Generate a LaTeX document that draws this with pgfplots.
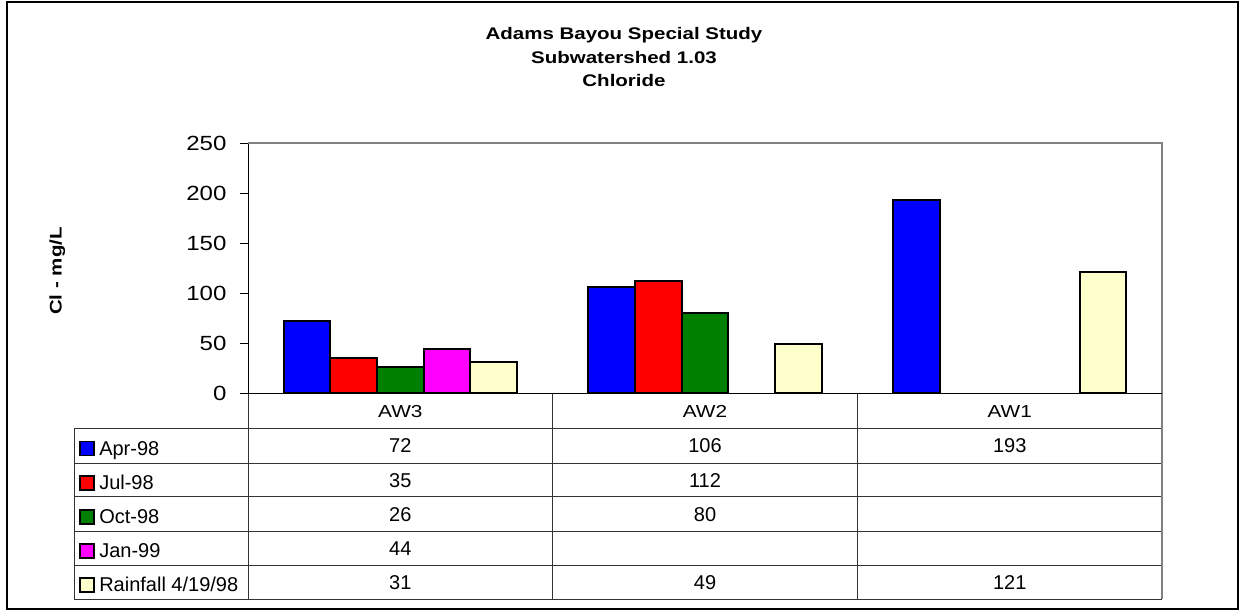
\documentclass[border=0pt]{standalone}
\usepackage{pgfplots}
\pgfplotsset{compat=1.18}
\usepackage{fontspec}
\setmainfont{Liberation Sans}
\newfontfamily\widefont[FakeStretch=1.22]{Liberation Sans}
\newfontfamily\tickfont[FakeStretch=1.17]{Liberation Sans}
\newfontfamily\catfont[FakeStretch=1.2]{Liberation Sans}

\definecolor{serA}{RGB}{0,0,255}
\definecolor{serB}{RGB}{255,0,0}
\definecolor{serC}{RGB}{0,128,0}
\definecolor{serD}{RGB}{255,0,255}
\definecolor{serE}{RGB}{255,255,204}
\definecolor{gridline}{RGB}{128,128,128}

\begin{document}
\begin{tikzpicture}
\path[use as bounding box] (0,0) rectangle (929.25pt,-458.25pt);

\begin{scope}[x=0.75pt,y=-0.75pt]
  % outer frame
  \draw[line width=1.5pt] (6.5,2.3) rectangle (1238.3,609.3);
  % title
  \tikzset{ttl/.style={font=\widefont\bfseries\fontsize{12.6}{15}\selectfont, anchor=base, inner sep=0pt}}
  \node[ttl] at (624,39.3) {Adams Bayou Special Study};
  \node[ttl] at (624,63.0) {Subwatershed 1.03};
  \node[ttl] at (624,86.7) {Chloride};
  % y axis title
  \node[ttl, rotate=90] at (61.5,271) {Cl - mg/L};

  % data table grid
  \begin{scope}[line width=0.75pt, draw=black!80]
    \foreach \yy in {428.3,463.3,496.7,531.7,565,599}
      \draw (74,\yy) -- (1162,\yy);
    \draw (74,428.3) -- (74,599);
    \draw (248,393) -- (248,599);
    \draw (552.7,393) -- (552.7,599);
    \draw (857.3,393) -- (857.3,599);
    \draw[gridline, line width=1pt] (1162,393) -- (1162,599);
  \end{scope}

  % category labels
  \tikzset{cat/.style={font=\catfont\fontsize{13}{15}\selectfont, anchor=base, inner sep=0pt}}
  \node[cat] at (400.3,417) {AW3};
  \node[cat] at (705,417) {AW2};
  \node[cat] at (1009.7,417) {AW1};

  % legend keys and row labels
  \tikzset{
    key/.style={draw=black, line width=1.2pt, minimum size=10.5pt, inner sep=0pt, fill=#1},
    lab/.style={font=\fontsize{15}{17}\selectfont, anchor=base west, inner sep=0pt},
    val/.style={font=\fontsize{15}{17}\selectfont, anchor=base, inner sep=0pt}}
  \node[key=serA] at (87,448.5) {};
  \node[key=serB] at (87,482.7) {};
  \node[key=serC] at (87,516.9) {};
  \node[key=serD] at (87,551.0) {};
  \node[key=serE] at (87,584.7) {};
  \node[lab] at (99,455.0) {Apr-98};
  \node[lab] at (99,489.2) {Jul-98};
  \node[lab] at (99,523.4) {Oct-98};
  \node[lab] at (99,557.5) {Jan-99};
  \node[lab] at (99,591.2) {Rainfall 4/19/98};

  % values
  \node[val] at (400.3,452.8) {72};
  \node[val] at (705,452.8) {106};
  \node[val] at (1009.7,452.8) {193};
  \node[val] at (400.3,487.0) {35};
  \node[val] at (705,487.0) {112};
  \node[val] at (400.3,521.2) {26};
  \node[val] at (705,521.2) {80};
  \node[val] at (400.3,555.3) {44};
  \node[val] at (400.3,589.0) {31};
  \node[val] at (705,589.0) {49};
  \node[val] at (1009.7,589.0) {121};
\end{scope}

\begin{axis}[
  at={(186pt,-107.25pt)}, anchor=north west,
  scale only axis, width=685.5pt, height=187.5pt,
  xmin=-0.5, xmax=2.5, ymin=0, ymax=250,
  ytick={0,50,100,150,200,250},
  xtick=\empty,
  axis x line*=bottom, axis y line*=left,
  axis line style={-, black, line width=0.75pt},
  tick align=outside, major tick length=6pt,
  ytick style={black, line width=0.75pt},
  /pgf/number format/assume math mode=true,
  yticklabel style={font=\tickfont\fontsize{15.4}{17}\selectfont, anchor=east, inner sep=0pt, xshift=-10pt},
  clip=false,
  every axis plot/.append style={ybar, bar width=35pt, draw=black, line width=1.4pt},
]
  \draw[gridline, line width=1.2pt] (rel axis cs:0,1) -- (rel axis cs:1,1) -- (rel axis cs:1,0);
  \addplot[bar shift=-70pt, fill=serA] coordinates {(0,72) (1,106) (2,193)};
  \addplot[bar shift=-35pt, fill=serB] coordinates {(0,35) (1,112)};
  \addplot[bar shift=0pt,   fill=serC] coordinates {(0,26) (1,80)};
  \addplot[bar shift=35pt,  fill=serD] coordinates {(0,44)};
  \addplot[bar shift=70pt,  fill=serE] coordinates {(0,31) (1,49) (2,121)};
\end{axis}
\end{tikzpicture}
\end{document}
